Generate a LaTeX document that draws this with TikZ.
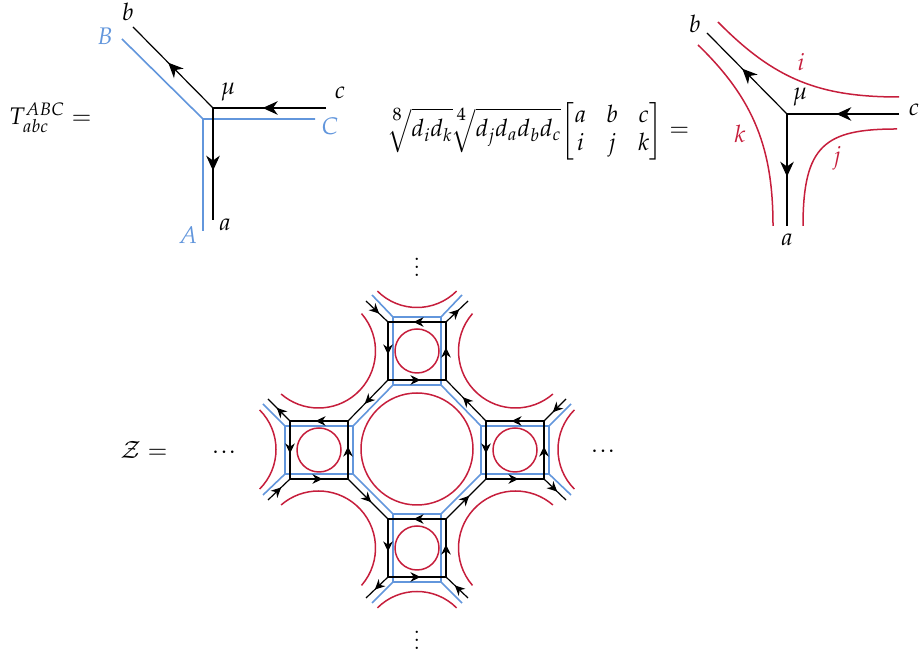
\documentclass[tikz,border=0pt]{standalone}
\usepackage{amsmath,amssymb}
\usepackage{mathpazo}
\usepackage{tikz}
\usetikzlibrary{arrows.meta,calc,decorations.markings}

\definecolor{lineblue}{RGB}{98,150,220}
\definecolor{linered}{RGB}{198,30,60}
\newcommand{\tightdots}{\cdotp\mkern-2.4mu\cdotp\mkern-2.4mu\cdotp}

\begin{document}
\begin{tikzpicture}[
    x=0.5pt, y=0.5pt,
    every node/.style={font=\large},
    blackline/.style={draw=black, line width=0.6pt},
    blueline/.style={draw=lineblue, line width=0.8pt},
    redline/.style={draw=linered, line width=0.75pt},
    bigarrow/.style={postaction={decorate, decoration={markings,
        mark=at position #1 with {\arrow{Stealth[length=7.5pt,width=6.8pt,inset=2.4pt]}}}}},
    smallarrow/.style={postaction={decorate, decoration={markings,
        mark=at position #1 with {\arrow{Stealth[length=5pt,width=4.8pt,inset=1.6pt]}}}}},
    blacksq/.style={inner sep=0pt, outer sep=0pt, minimum size=29pt},
    bluetall/.style={blueline, inner sep=0pt, outer sep=0pt, minimum width=24pt, minimum height=34pt},
    bluewide/.style={blueline, inner sep=0pt, outer sep=0pt, minimum width=34pt, minimum height=24pt},
    redloop/.style={redline, circle, inner sep=0pt, outer sep=0pt, minimum size=22pt},
    redcore/.style={redline, circle, inner sep=0pt, outer sep=0pt, minimum size=56pt},
    redlabel/.style={text=linered},
    bluelabel/.style={text=lineblue}
]
\useasboundingbox (0,0) rectangle (920,657);

% --- LEFT VERTEX ---
\coordinate (muL) at (213,549);
\coordinate (bL) at (133,630);
\coordinate (cL) at (326,549);
\coordinate (aL) at (213,437);
\coordinate (vtxC) at (203,538);
\coordinate (endB) at (122,618);
\coordinate (endC) at (315,538);
\coordinate (endA) at (203,426);

\node[anchor=west] (tensor) at (2,539) {$T^{ABC}_{abc} =$};
\node (labelbL) at (128,645) {$b$};
\node (labelcL) at (340,564) {$c$};
\node (labelaL) at (225,432) {$a$};
\node (labelmuL) at (228,565) {$\mu$};
\node[bluelabel] (labelB) at (105,621) {$B$};
\node[bluelabel] (labelC) at (330,531) {$C$};
\node[bluelabel] (labelA) at (188,422) {$A$};

\draw[blueline] (endB) -- (vtxC) -- (endC);
\draw[blueline] (vtxC) -- (endA);
\draw[blackline, bigarrow=.56] (muL) -- (bL);
\draw[blackline, bigarrow=.56] (cL) -- (muL);
\draw[blackline, bigarrow=.56] (muL) -- (aL);

% --- FORMULA ---
\node (formula) at (537,526)
{$\displaystyle\sqrt[\leftroot{-1}\uproot{6}\scriptstyle 8]{\vphantom{d_j}d_id_k}\!\sqrt[\leftroot{-1}\uproot{6}\scriptstyle 4]{d_jd_ad_bd_c}\!\begin{bmatrix} a & b & c\\ i & j & k \end{bmatrix}=$};

% --- RIGHT VERTEX ---
\coordinate (muR) at (787,543);
\coordinate (bR) at (707,624);
\coordinate (cR) at (899,543);
\coordinate (aR) at (787,431);
\coordinate (iS) at (718,635);
\coordinate (iE) at (899,560);
\coordinate (kS) at (698,612);
\coordinate (kE) at (773,431);
\coordinate (jS) at (897,528);
\coordinate (jE) at (803,431);

\node (labelbR) at (695,633) {$b$};
\node (labelcR) at (914,547) {$c$};
\node (labelaR) at (787,417) {$a$};
\node (labelmuR) at (800,560) {$\mu$};
\node[redlabel] (labeli) at (801,595) {$i$};
\node[redlabel] (labelk) at (740,523) {$k$};
\node[redlabel] (labelj) at (837,499) {$j$};

\draw[redline] (iS) .. controls (775,577) and (820,560) .. (iE);
\draw[redline] (kS) .. controls (755,557) and (773,507) .. (kE);
\draw[redline] (jS) .. controls (825,528) and (803,512) .. (jE);
\draw[blackline, bigarrow=.56] (muR) -- (bR);
\draw[blackline, bigarrow=.56] (cR) -- (muR);
\draw[blackline, bigarrow=.56] (muR) -- (aR);

% --- LATTICE ---
\node (zlabel) at (144,207) {$\mathcal{Z} =$};
\node (dotsL) at (224,204) {$\tightdots$};
\node (dotsR) at (603,205) {$\tightdots$};
\node (dotsT) at (417,396) {$\vdots$};
\node (dotsB) at (417,23) {$\vdots$};

% Red loops and the outer arcs
\node[redcore] (core) at (417,208) {};
\node[redloop] (loopT) at (417,306) {};
\node[redloop] (loopL) at (319,207) {};
\node[redloop] (loopR) at (515,207) {};
\node[redloop] (loopB) at (417,109) {};

\draw[redline] (417,405.5) ++(225:56) arc[start angle=225, end angle=315, radius=56];
\draw[redline] (417,9.5) ++(45:56) arc[start angle=45, end angle=135, radius=56];
\draw[redline] (220,207.5) ++(-45:56) arc[start angle=-45, end angle=45, radius=56];
\draw[redline] (614,207.5) ++(135:56) arc[start angle=135, end angle=225, radius=56];
\draw[redline] (318.5,306) ++(41:57) arc[start angle=41, end angle=-131, radius=57];
\draw[redline] (515.5,306) ++(139:57) arc[start angle=139, end angle=311, radius=57];
\draw[redline] (318.5,109) ++(-41:57) arc[start angle=-41, end angle=131, radius=57];
\draw[redline] (515.5,109) ++(221:57) arc[start angle=221, end angle=49, radius=57];

% Blue squares
\node[bluetall] (topC) at (417,306) {};
\node[bluewide] (leftC) at (319,207) {};
\node[bluewide] (rightC) at (515,207) {};
\node[bluetall] (bottomC) at (417,109) {};

\coordinate (topCnw) at (372,362);
\coordinate (topCne) at (462,362);
\coordinate (leftCnw) at (263,253);
\coordinate (leftCsw) at (263,162);
\coordinate (rightCne) at (571,253);
\coordinate (rightCse) at (571,162);
\coordinate (bottomCsw) at (372,54);
\coordinate (bottomCse) at (462,54);

\draw[blueline] (topC.north west) -- (topCnw);
\draw[blueline] (topC.north east) -- (topCne);
\draw[blueline] (leftC.north west) -- (leftCnw);
\draw[blueline] (leftC.south west) -- (leftCsw);
\draw[blueline] (rightC.north east) -- (rightCne);
\draw[blueline] (rightC.south east) -- (rightCse);
\draw[blueline] (bottomC.south west) -- (bottomCsw);
\draw[blueline] (bottomC.south east) -- (bottomCse);
\draw[blueline] (topC.south west) -- (leftC.north east);
\draw[blueline] (topC.south east) -- (rightC.north west);
\draw[blueline] (bottomC.north west) -- (leftC.south east);
\draw[blueline] (bottomC.north east) -- (rightC.south west);

% Black squares
\node[blacksq] (topB) at (417,306) {};
\node[blacksq] (leftB) at (319,207) {};
\node[blacksq] (rightB) at (515,207) {};
\node[blacksq] (bottomB) at (417,109) {};

\coordinate (topBnw) at (366,356);
\coordinate (topBne) at (468,356);
\coordinate (leftBnw) at (268,258);
\coordinate (leftBsw) at (268,157);
\coordinate (rightBne) at (566,258);
\coordinate (rightBse) at (566,157);
\coordinate (bottomBsw) at (366,59);
\coordinate (bottomBse) at (468,59);

\foreach \sq in {topB,leftB,rightB,bottomB} {
    \draw[blackline, smallarrow=.56] (\sq.north east) -- (\sq.north west);
    \draw[blackline, smallarrow=.56] (\sq.north west) -- (\sq.south west);
    \draw[blackline, smallarrow=.56] (\sq.south west) -- (\sq.south east);
    \draw[blackline, smallarrow=.56] (\sq.south east) -- (\sq.north east);
}

\draw[blackline, smallarrow=.6] (topBnw) -- (topB.north west);
\draw[blackline, smallarrow=.6] (topB.north east) -- (topBne);
\draw[blackline, smallarrow=.6] (leftB.north west) -- (leftBnw);
\draw[blackline, smallarrow=.6] (leftBsw) -- (leftB.south west);
\draw[blackline, smallarrow=.6] (rightBne) -- (rightB.north east);
\draw[blackline, smallarrow=.6] (rightB.south east) -- (rightBse);
\draw[blackline, smallarrow=.6] (bottomB.south west) -- (bottomBsw);
\draw[blackline, smallarrow=.6] (bottomBse) -- (bottomB.south east);

\draw[blackline, smallarrow=.58] (topB.south west) -- (leftB.north east);
\draw[blackline, smallarrow=.58] (rightB.north west) -- (topB.south east);
\draw[blackline, smallarrow=.58] (leftB.south east) -- (bottomB.north west);
\draw[blackline, smallarrow=.58] (bottomB.north east) -- (rightB.south west);

\end{tikzpicture}
\end{document}
